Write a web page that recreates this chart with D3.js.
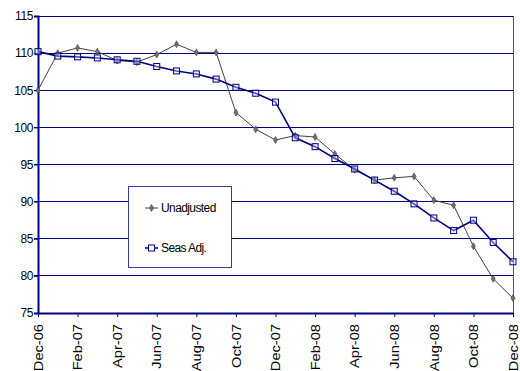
<!DOCTYPE html>
<html><head><meta charset="utf-8">
<script src="https://cdn.jsdelivr.net/npm/d3@7"></script>
<style>body{margin:0;background:#fff}svg{display:block}</style>
</head><body><svg id="c" width="520" height="371"></svg>
<script>
const months = ["Dec-06","Jan-07","Feb-07","Mar-07","Apr-07","May-07","Jun-07","Jul-07","Aug-07","Sep-07","Oct-07","Nov-07","Dec-07","Jan-08","Feb-08","Mar-08","Apr-08","May-08","Jun-08","Jul-08","Aug-08","Sep-08","Oct-08","Nov-08","Dec-08"];
const unadjusted = [105.0,110.0,110.7,110.2,109.0,108.8,109.8,111.2,110.1,110.1,102.0,99.75,98.3,98.9,98.7,96.4,94.3,92.9,93.2,93.4,90.2,89.5,84.0,79.6,77.0];
const seasAdj = [110.2,109.6,109.5,109.35,109.1,108.9,108.2,107.6,107.2,106.5,105.4,104.6,103.4,98.6,97.4,95.8,94.4,92.9,91.4,89.7,87.8,86.1,87.5,84.5,81.9];
const yTicks = [75,80,85,90,95,100,105,110,115];
const seriesNames = ["Unadjusted","Seas Adj."];

const svg = d3.select("#c");
const L=38, R=513, T=16, B=313;
const x = d3.scalePoint().domain(months).range([L,R]);
const y = d3.scaleLinear().domain([75,115]).range([B,T]);
const navy = "#000080";
const font = "'Liberation Sans', Arial, sans-serif";

// gridlines
svg.append("g").selectAll("line").data(yTicks.filter(d=>d>75)).join("line")
  .attr("x1",L-4).attr("x2",R).attr("y1",d=>y(d)).attr("y2",d=>y(d))
  .attr("stroke",navy).attr("stroke-width",1).attr("shape-rendering","crispEdges");
// right border
svg.append("line").attr("x1",R).attr("x2",R).attr("y1",T).attr("y2",B)
  .attr("stroke","#4a4ab0").attr("stroke-width",1).attr("shape-rendering","crispEdges");

// y axis
const ya = svg.append("g").attr("transform",`translate(${L},0)`)
  .call(d3.axisLeft(y).tickValues(yTicks).tickSize(4).tickPadding(1));
ya.select(".domain").attr("stroke",navy).attr("stroke-width",2);
ya.selectAll(".tick line").attr("stroke",navy);
ya.selectAll("text").attr("font-family",font).attr("font-size",12).attr("fill","#000").attr("letter-spacing","-0.4");

// x axis
const xa = svg.append("g").attr("transform",`translate(0,${B})`)
  .call(d3.axisBottom(x).tickValues(months.filter((d,i)=>i%2===0)).tickSize(4).tickSizeOuter(0));
xa.select(".domain").attr("stroke",navy).attr("stroke-width",2);
xa.selectAll(".tick line").attr("stroke",navy);
xa.selectAll("text").attr("font-family",font).attr("font-size",12).attr("fill","#000")
  .attr("transform","rotate(-90) translate(-11,0) scale(1.22,1)").attr("text-anchor","end").attr("x",0).attr("y",0).attr("dy","0.35em");

// unadjusted line
const line = d3.line().x((d,i)=>x(months[i])).y(d=>y(d));
svg.append("path").datum(unadjusted).attr("d",line).attr("fill","none").attr("stroke","#404040").attr("stroke-width",1);
svg.append("g").selectAll("path").data(unadjusted).join("path")
  .attr("d",d3.symbol(d3.symbolDiamond,14))
  .attr("transform",(d,i)=>`translate(${x(months[i])},${y(d)})`)
  .attr("fill","#707070").attr("stroke","#404040").attr("stroke-width",0.6);

// seas adj line
svg.append("path").datum(seasAdj).attr("d",line).attr("fill","none").attr("stroke",navy).attr("stroke-width",1.6);
svg.append("g").selectAll("rect").data(seasAdj).join("rect")
  .attr("x",(d,i)=>x(months[i])-3).attr("y",d=>y(d)-3).attr("width",6).attr("height",6)
  .attr("fill","#dde0ff").attr("fill-opacity",0.4).attr("stroke",navy).attr("stroke-width",1);

// legend
const lg = svg.append("g");
lg.append("rect").attr("x",128.5).attr("y",186.5).attr("width",103).attr("height",81)
  .attr("fill","#fff").attr("stroke","#3a3aa0").attr("stroke-width",1);
const ly = [208, 248];
lg.append("line").attr("x1",145).attr("x2",158).attr("y1",ly[0]).attr("y2",ly[0]).attr("stroke","#404040");
lg.append("path").attr("d",d3.symbol(d3.symbolDiamond,14)).attr("transform",`translate(151.5,${ly[0]})`).attr("fill","#707070").attr("stroke","#404040").attr("stroke-width",0.6);
lg.append("line").attr("x1",145).attr("x2",158).attr("y1",ly[1]).attr("y2",ly[1]).attr("stroke",navy).attr("stroke-width",1.6);
lg.append("rect").attr("x",148.5).attr("y",ly[1]-3).attr("width",6).attr("height",6).attr("fill","#fff").attr("stroke",navy);
lg.selectAll("text.l").data(seriesNames).join("text").attr("class","l")
  .attr("x",161).attr("y",(d,i)=>ly[i]).attr("dy","0.35em")
  .attr("font-family",font).attr("font-size",12).attr("letter-spacing","-0.6").attr("fill","#000").text(d=>d);
</script></body></html>
